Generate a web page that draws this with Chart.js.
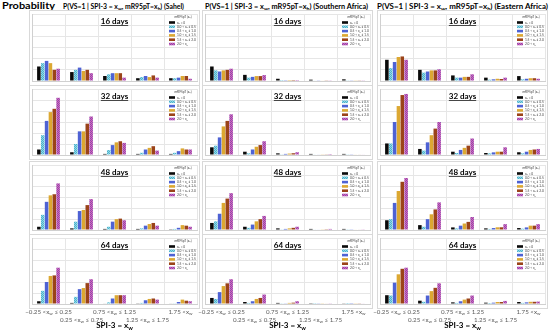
<!DOCTYPE html>
<html><head><meta charset="utf-8">
<script src="https://cdn.jsdelivr.net/npm/chart.js@4/dist/chart.umd.min.js"></script>
<style>
html,body{margin:0;padding:0;background:#fff;}
#wrap{position:relative;width:550px;height:331px;overflow:hidden;font-family:Lato,"Open Sans",sans-serif;}
#wrap canvas{position:absolute;left:0;top:0;}
.t{position:absolute;font-weight:bold;font-size:7.8px;color:#000;white-space:nowrap;line-height:10px;transform-origin:0 50%;}
.t sub{font-size:0.7em;vertical-align:-0.3em;line-height:0;}
</style></head><body>
<div id="wrap">
<div class="t" id="tp" style="left:2px;top:1px;font-size:9.5px">Probability</div>
<div class="t" id="t0" style="left:63px;top:1px"></div>
<div class="t" id="t1" style="left:205px;top:1px"></div>
<div class="t" id="t2" style="left:377px;top:1px"></div>
</div>
<script>
// ---------- data ----------
const categories = ["\u22120.25 <x_w \u2264 0.25","0.25 <x_w \u2264 0.75","0.75 <x_w \u2264 1.25","1.25 <x_w \u2264 1.75","1.75 <x_w"];
const seriesLabels = ["x_h = 0","0.0 < x_h \u2264 0.5","0.5 < x_h \u2264 1.0","1.0 < x_h \u2264 1.5","1.5 < x_h \u2264 2.0","2.0 < x_h"];
const legendTitle = "mR95pT (x_h)";
const regions = ["Sahel","Southern Africa","Eastern Africa"];
const leadTimes = ["16 days","32 days","48 days","64 days"];
const yTicks = [0,20,40,60];
const xAxisTitle = "SPI-3 = x_w";
// each inner array = one SPI-3 class; its 6 values = the 6 mR95pT classes (%)
const sahel16 = [[13,16,18,16,10,11],[8,10,12,9,10,7],[4.5,6,7,7,7,3],[2.5,3.5,4.5,3.5,5,3],[2.5,2.5,3,4.5,4.5,2]];
const sahel32 = [[5,18,31,39,42,52],[2.5,10,21.5,21.5,28.5,35],[1,4.5,9,11.5,12.5,11],[1,2,5,6.5,8,4],[1,2,3.5,6,5,5]];
const sahel48 = [[3,14,26,32,33,43],[1.5,7.7,17.5,18.5,23,28.5],[1,3,7.7,10,10.5,9],[1,1.5,4,5.5,6.5,4],[0.7,1,2,4.5,4,3]];
const sahel64 = [[2.5,12,20,25.5,26,33],[1,6.5,13.5,14.5,19,22.5],[0.5,1.5,5,8,8,8],[0.3,1,3.4,4.6,5,4],[0.4,0.6,1.8,4,3,2.5]];
const south16 = [[13,9.5,8.5,9.5,10,11],[5.5,3,3.7,4.4,4.4,5.3],[2,0.8,0.7,0.8,0.8,0.8],[1.2,0.4,0.3,0.4,0.3,0.3],[1.5,0.3,0.3,0.3,0.3,0.3]];
const south32 = [[7,8.5,16,26,31,37],[3,1.5,5,7.5,9,12.5],[1.5,0.6,1,1.3,1.6,2.5],[1,0.4,0.5,0.6,0.6,0.8],[1,0.3,0.3,0.4,0.5,0.5]];
const south48 = [[6.5,8,15,25,29,34],[3,2,5,8,10,13],[1.5,0.6,1,1.5,2,3],[1,0.4,0.5,0.6,0.7,1],[1,0.3,0.3,0.5,0.5,0.6]];
const south64 = [[5.5,4.6,10.8,16.3,18.8,22.5],[1.8,1,2.5,4.6,5.5,8.6],[1,0.3,0.6,1,1.2,2.5],[0.7,0.2,0.3,0.3,0.5,0.6],[0.6,0.1,0.2,0.3,0.3,0.4]];
const east16 = [[19,11.5,17,21.5,22,19],[10,7.5,8.5,9.5,9.5,10.5],[5,3,3,3.7,3.7,6],[3,1.2,1.5,2,1.8,3],[4.4,1.5,2,2.5,2.5,2]];
const east32 = [[10.5,10.5,30,44.5,54.5,55.5],[5.5,4,11.5,18,24,30],[3,1.8,4.6,6.5,8.5,15],[1.8,1.5,2.4,3,3,7],[2.5,1.5,3,4.6,5,5.5]];
const east48 = [[9,10,25,36,44.5,48],[4.5,3,10,14.5,19,25.5],[2.4,1.5,4,6,7.5,12],[1.5,1,1.8,2.5,2.5,5.4],[1.8,1.2,2.4,4,4,5.4]];
const east64 = [[8,7.7,19.4,27,32,33],[3,2,7.7,11.7,14.7,18.8],[1.5,1,2.5,4,5,7.7],[1.2,0.9,1.2,1.8,1.8,2.8],[1.8,1,1.5,2,2,2.2]];
const panels = [[sahel16,south16,east16],[sahel32,south32,east32],[sahel48,south48,east48],[sahel64,south64,east64]];

// ---------- layout ----------
const W=550,H=331;
const colX=[[32,197],[205,370],[380,545]];
const rowY=[[14,81],[89,155],[165,230],[238,304]];
const FONT="Lato, 'Open Sans', sans-serif";

function pat(a,b){const c=document.createElement('canvas');c.width=c.height=2;const g=c.getContext('2d');g.fillStyle=a;g.fillRect(0,0,2,2);g.fillStyle=b;g.fillRect(0,0,1,1);g.fillRect(1,1,1,1);return g.createPattern(c,'repeat');}
const seriesFill=["#0a0a0a",pat("#8fdaea","#4fb0c8"),"#4e62d4","#dca832","#9a4319",pat("#d861b6","#8a4cb0")];

function parts(str){const out=[];const re=/_(\w)/g;let last=0,m;while((m=re.exec(str))){if(m.index>last)out.push({t:str.slice(last,m.index),s:false});out.push({t:m[1],s:true});last=re.lastIndex;}if(last<str.length)out.push({t:str.slice(last),s:false});return out;}
function drawRich(ctx,str,x,y,size,align,weight,color){
  const ps=parts(str);let w=0;
  ps.forEach(p=>{ctx.font=`${weight} ${p.s?size*0.72:size}px ${FONT}`;p.w=ctx.measureText(p.t).width;w+=p.w;});
  let sx=align==='center'?x-w/2:align==='right'?x-w:x;
  ctx.textAlign='left';ctx.textBaseline='middle';ctx.fillStyle=color;
  ps.forEach(p=>{ctx.font=`${weight} ${p.s?size*0.72:size}px ${FONT}`;ctx.fillText(p.t,sx,p.s?y+size*0.28:y);sx+=p.w;});
  return {x:sx-w,w};
}
function toHTML(str){return str.replace(/_(\w)/g,'<sub>$1</sub>');}
const titleW=[121,163,171];
regions.forEach((r,i)=>{const el=document.getElementById('t'+i);el.innerHTML=toHTML('P(VS=1 | SPI-3 = x_w, mR95pT=x_h) ('+r+')');
  el.style.transform=`scaleX(${titleW[i]/el.getBoundingClientRect().width})`;});
{const el=document.getElementById('tp');el.style.transform=`scaleX(${53/el.getBoundingClientRect().width})`;}

const panelPlugin={id:'panel',
 beforeDraw(chart){const ctx=chart.ctx,a=chart.chartArea;ctx.save();ctx.strokeStyle='#d9d9d9';ctx.lineWidth=1;
   ctx.strokeRect(Math.round(a.left-3)+0.5,Math.round(a.top-4)+0.5,Math.round(a.right-a.left+5),Math.round(a.bottom-a.top+8));ctx.restore();},
 afterDraw(chart,args,o){
  const ctx=chart.ctx,a=chart.chartArea;ctx.save();
  const cx=(a.left+a.right)/2;
  const r=drawRich(ctx,o.title,cx,a.top+7,8,'center','bold','#000');
  ctx.fillRect(r.x,a.top+11,r.w,0.7);
  // legend
  const lx=a.right-28;
  drawRich(ctx,legendTitle,lx+14,a.top+2.5,3.2,'center','normal','#404040');
  chart.data.datasets.forEach((d,i)=>{const y=a.top+8.5+i*4.3;ctx.fillStyle=d.backgroundColor;ctx.fillRect(lx,y-1.3,6,2.6);
    drawRich(ctx,d.label,lx+8,y,3.2,'left','normal','#404040');});
  if(o.bottom){const xs=chart.scales.x;
    chart.data.labels.forEach((l,i)=>{const x=xs.getPixelForValue(i);drawRich(ctx,l,x,i%2?320:312,6.2,'center','normal','#595959');});
    drawRich(ctx,xAxisTitle,cx,325.5,8,'center','bold','#000');}
  ctx.restore();}};

const wrap=document.getElementById('wrap');
panels.forEach((row,ri)=>row.forEach((tbl,ci)=>{
  const cv=document.createElement('canvas');cv.width=W;cv.height=H;cv.style.width=W+'px';cv.style.height=H+'px';wrap.appendChild(cv);
  const datasets=seriesLabels.map((lab,si)=>({label:lab,data:tbl.map(g=>g[si]),backgroundColor:seriesFill[si],borderWidth:0,categoryPercentage:0.7,barPercentage:0.92}));
  new Chart(cv,{type:'bar',data:{labels:categories,datasets},
    options:{responsive:false,animation:false,devicePixelRatio:1,
      layout:{padding:{left:colX[ci][0],right:W-colX[ci][1],top:rowY[ri][0],bottom:H-rowY[ri][1]}},
      plugins:{legend:{display:false},tooltip:{enabled:false},panel:{title:leadTimes[ri],bottom:ri===3}},
      scales:{
        x:{afterFit:s=>{s.height=0;},ticks:{display:false},grid:{color:'#e6e6e6',offset:true,drawTicks:false},border:{color:'#d0d0d0'}},
        y:{min:0,max:60,afterFit:s=>{s.width=0;},
          ticks:{display:ci===0,stepSize:10,padding:4,color:'#595959',font:{size:6.5,family:FONT},callback:v=>yTicks.includes(v)?v+'%':''},
          grid:{color:'#e6e6e6',drawTicks:false},border:{color:'#d0d0d0'}}}},
    plugins:[panelPlugin]});
}));
</script>
</body></html>
